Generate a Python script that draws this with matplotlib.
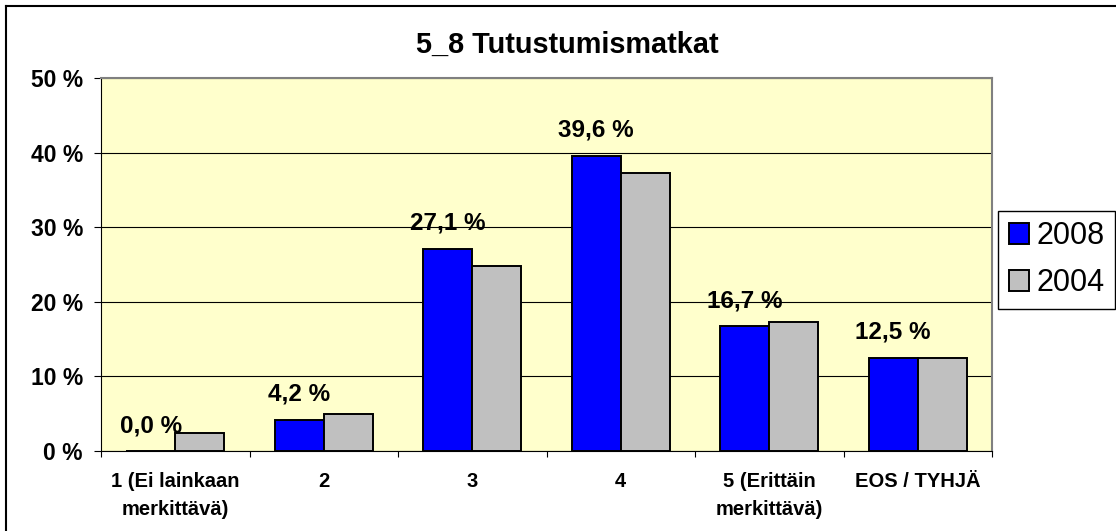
import matplotlib
matplotlib.use("Agg")
import matplotlib.pyplot as plt
from matplotlib.ticker import FuncFormatter, FixedLocator
from matplotlib.lines import Line2D
import numpy as np

plt.rcParams['font.family'] = ['Liberation Sans', 'DejaVu Sans']

title = "5_8 Tutustumismatkat"
categories = ["1 (Ei lainkaan\nmerkittävä)", "2", "3", "4", "5 (Erittäin\nmerkittävä)", "EOS / TYHJÄ"]
series_names = ["2008", "2004"]
values_2008 = [0.0, 4.2, 27.1, 39.6, 16.7, 12.5]
values_2004 = [2.4, 5.0, 24.8, 37.3, 17.3, 12.5]
y_ticks = [0, 10, 20, 30, 40, 50]

W, H = 1116, 531
fig = plt.figure(figsize=(W / 100, H / 100), dpi=100)
ax = fig.add_axes([101 / W, 1 - 451 / H, (992 - 101) / W, (451 - 78) / H])
ax.set_facecolor("#FFFFCC")

x = np.arange(len(categories))
bw = 0.33
ax.bar(x - bw / 2, values_2008, bw, color="#0000FF", edgecolor="black", linewidth=1.4, zorder=3, label=series_names[0])
ax.bar(x + bw / 2, values_2004, bw, color="#C0C0C0", edgecolor="black", linewidth=1.4, zorder=3, label=series_names[1])

for xi, v in zip(x - bw / 2, values_2008):
    ax.annotate(f"{v:.1f} %".replace(".", ","), xy=(xi, v), xytext=(0, 19),
                textcoords="offset pixels", ha="center", va="baseline",
                fontsize=17.5, fontweight="bold", zorder=4)

ax.set_xlim(-0.5, len(categories) - 0.5)
ax.set_ylim(0, 50)
ax.set_yticks(y_ticks)
ax.yaxis.set_major_formatter(FuncFormatter(lambda v, p: f"{v:.0f} %"))
ax.grid(axis="y", color="black", linewidth=0.8, zorder=1)
ax.set_axisbelow(True)

ax.set_xticks(x)
ax.set_xticklabels(categories, fontsize=14.5, fontweight="bold", linespacing=1.6)
ax.xaxis.set_minor_locator(FixedLocator(np.arange(-0.5, len(categories), 1.0)))
ax.tick_params(axis="x", which="major", length=0, pad=15)
ax.tick_params(axis="x", which="minor", length=4.3, width=0.8, color="black", direction="out")
ax.tick_params(axis="y", which="major", length=5, width=0.8, pad=8, labelsize=16.5)
for lbl in ax.get_yticklabels():
    lbl.set_fontweight("bold")

ax.spines["left"].set_color("black")
ax.spines["left"].set_linewidth(0.8)
ax.spines["bottom"].set_color("black")
ax.spines["bottom"].set_linewidth(0.8)
ax.spines["top"].set_color("#808080")
ax.spines["top"].set_linewidth(1.5)
ax.spines["right"].set_color("#808080")
ax.spines["right"].set_linewidth(1.5)

fig.text(567.5 / W, 1 - 53 / H, title, ha="center", va="baseline", fontsize=20.8, fontweight="bold")

leg = fig.legend(loc="upper left", bbox_to_anchor=(998 / W, 1 - 210.7 / H), fontsize=22,
                 frameon=True, fancybox=False, edgecolor="black", framealpha=1,
                 handlelength=0.65, handleheight=0.65, handletextpad=0.25,
                 labelspacing=0.55, borderpad=0.35, borderaxespad=0)
leg.get_frame().set_linewidth(1.0)

# figure frame (left and top edges)
fig.add_artist(Line2D([6 / W, 6 / W], [0, 1 - 6 / H], transform=fig.transFigure, color="black", linewidth=1.5))
fig.add_artist(Line2D([6 / W, 1], [1 - 6 / H, 1 - 6 / H], transform=fig.transFigure, color="black", linewidth=1.5))

fig.savefig("out.png", dpi=100)
